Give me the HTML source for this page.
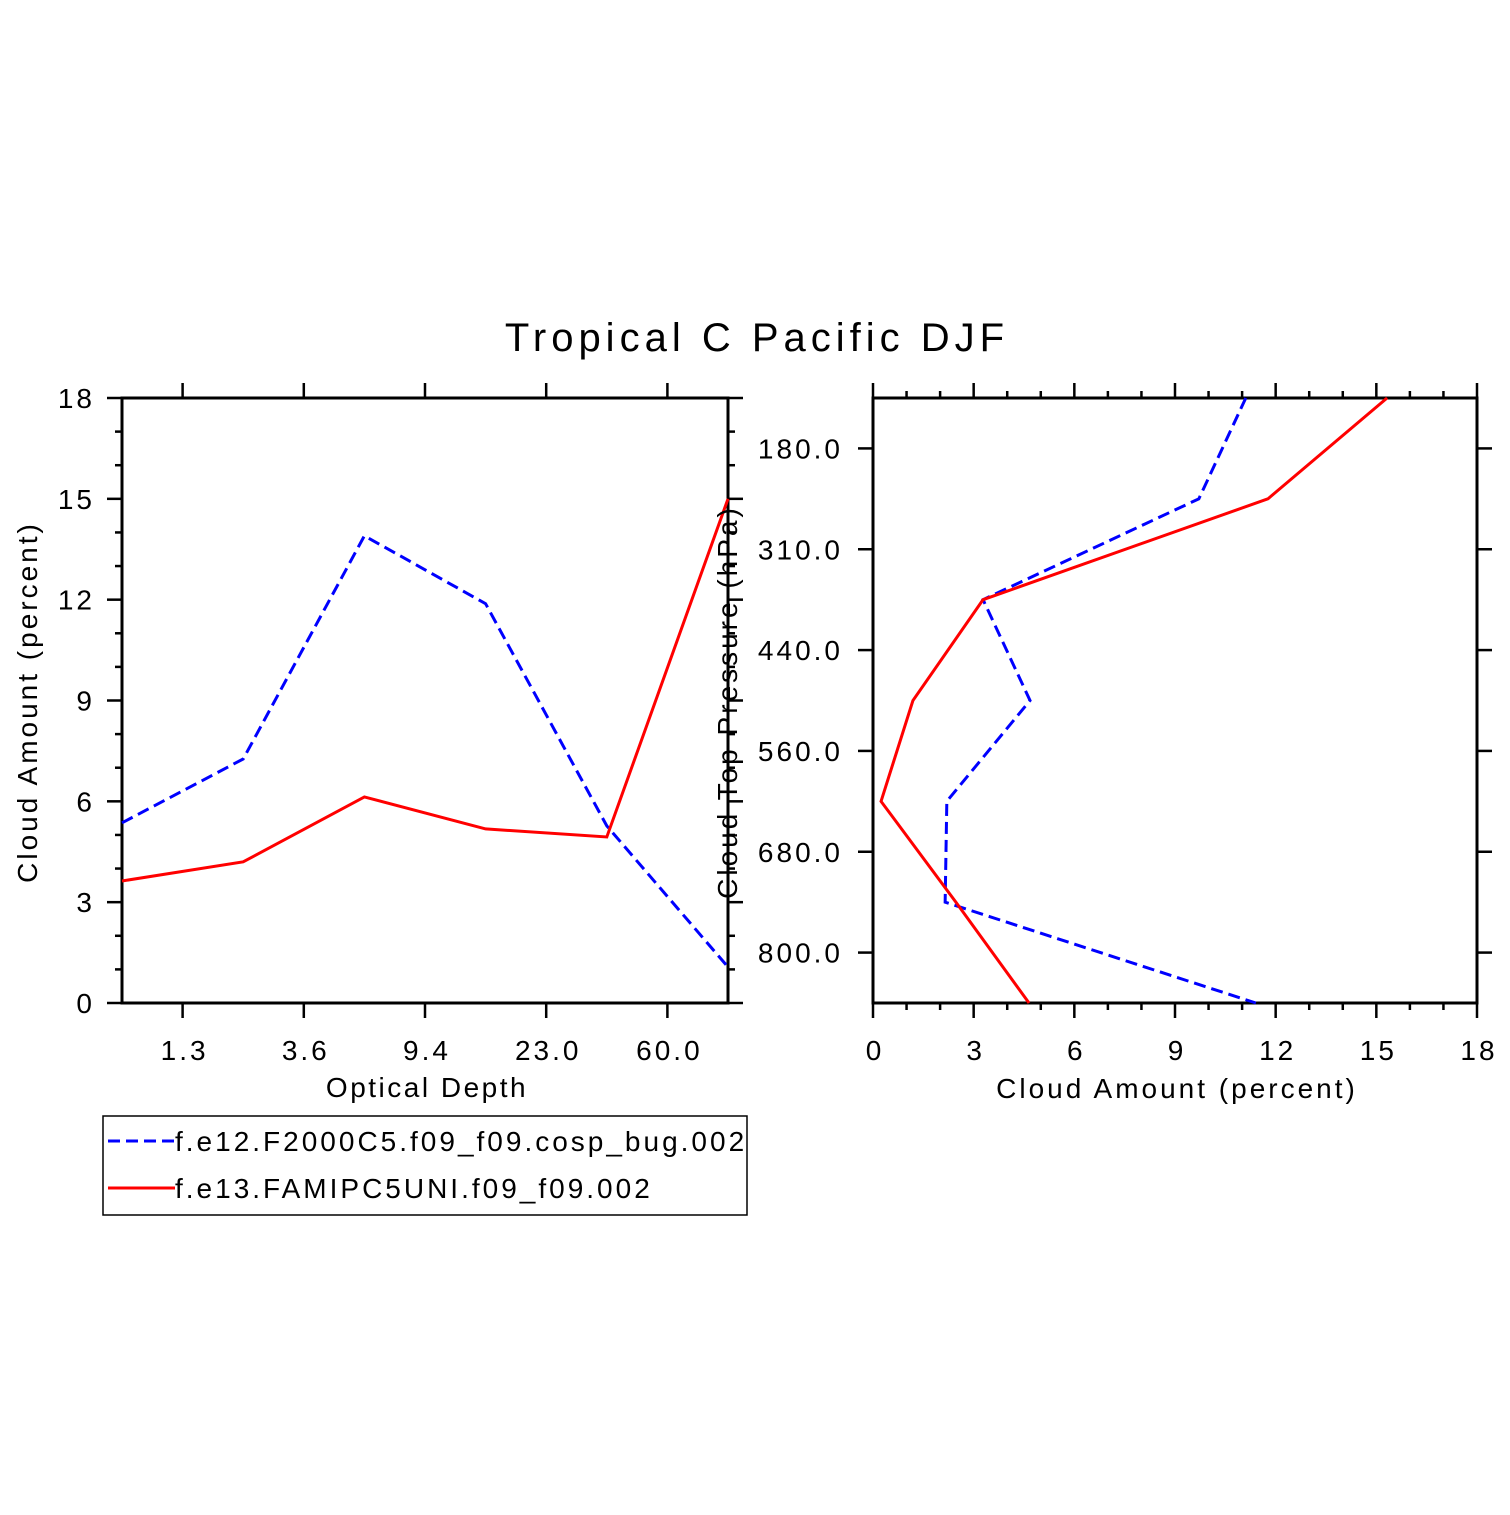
<!DOCTYPE html>
<html><head><meta charset="utf-8"><style>
html,body{margin:0;padding:0;background:#fff}
svg text{font-family:"Liberation Sans","DejaVu Sans",sans-serif;fill:#000}
</style></head><body>
<svg id="chart" width="1510" height="1510" viewBox="0 0 1510 1510" xmlns="http://www.w3.org/2000/svg">
<rect width="1510" height="1510" fill="#fff"/>
<text x="757" y="351" font-size="40" text-anchor="middle" letter-spacing="5">Tropical C Pacific DJF</text>
<g id="left"></g>
<g id="right"></g>
<g>
<rect x="103" y="1116" width="644" height="99" fill="none" stroke="#000" stroke-width="1.5"/>
<line x1="108" y1="1141" x2="175" y2="1141" stroke="#00f" stroke-width="3" stroke-dasharray="12,6"/>
<text x="175" y="1151" font-size="28" letter-spacing="3">f.e12.F2000C5.f09_f09.cosp_bug.002</text>
<line x1="108" y1="1188" x2="175" y2="1188" stroke="#f00" stroke-width="3"/>
<text x="175" y="1198" font-size="28" letter-spacing="3">f.e13.FAMIPC5UNI.f09_f09.002</text>
</g>
</svg>
<script>
const leftCategories = ["0.3","1.3","3.6","9.4","23.0","60.0"];
const leftTickLabels = ["1.3","3.6","9.4","23.0","60.0"];
const leftBlue = [5.36, 7.26, 13.9, 11.88, 5.27, 1.07];
const leftRed = [3.63, 4.2, 6.13, 5.18, 4.94, 15.0];
const amountTicks = [0,3,6,9,12,15,18];
const pressureLevels = [0,1,2,3,4,5,6];
const pressureTickLabels = ["180.0","310.0","440.0","560.0","680.0","800.0"];
const rightBlue = [11.11, 9.71, 3.28, 4.68, 2.2, 2.15, 11.41];
const rightRed = [15.32, 11.77, 3.28, 1.19, 0.24, 2.47, 4.65];

const NS="http://www.w3.org/2000/svg";
function mk(parent,tag,attrs){const e=document.createElementNS(NS,tag);for(const k in attrs)e.setAttribute(k,attrs[k]);parent.appendChild(e);return e;}
function ln(p,x1,y1,x2,y2,w){const l=mk(p,'line',{x1,y1,x2,y2,stroke:'#000','stroke-width':w});

return l;}
function tx(p,x,y,s,anchor,size,ls){const t=mk(p,'text',{x,y,'font-size':size||28,'text-anchor':anchor,'letter-spacing':(ls===undefined?3:ls)});t.textContent=s;

return t;}

// Left panel
const L=document.getElementById('left');
const lx0=122,lx1=728,ly0=398,ly1=1003;
const lxs=i=>lx0+i*(lx1-lx0)/(leftCategories.length-1);
const lys=v=>ly1-v*(ly1-ly0)/18;
for(let v=0;v<=18;v++){const y=lys(v);const maj=v%3===0;
 ln(L,lx0,y,lx0-(maj?15:7),y,2.5);ln(L,lx1,y,lx1+(maj?15:7),y,2.5);}
amountTicks.forEach(v=>tx(L,95,lys(v)+10,String(v),'end'));
leftTickLabels.forEach((s,i)=>{const x=lxs(i+0.5);ln(L,x,ly0,x,ly0-15,2.5);ln(L,x,ly1,x,ly1+15,2.5);tx(L,x+2,1060,s,'middle');});
const lbox=mk(L,'rect',{x:lx0,y:ly0,width:lx1-lx0,height:ly1-ly0,fill:'none',stroke:'#000','stroke-width':3});


const lxt=tx(L,427,1097,'Optical Depth','middle',28,2.5);

const lyt=tx(L,0,0,'Cloud Amount (percent)','middle',28,3);lyt.setAttribute('transform','translate(37,702) rotate(-90)');

function pl(p,pts,color,dash,name){const a=mk(p,'polyline',{points:pts.map(q=>q.join(',')).join(' '),fill:'none',stroke:color,'stroke-width':3});if(dash)a.setAttribute('stroke-dasharray','12,6');

}
pl(L,leftBlue.map((v,i)=>[lxs(i),lys(v)]),'#00f',true,'left-series-blue');
pl(L,leftRed.map((v,i)=>[lxs(i),lys(v)]),'#f00',false,'left-series-red');

// Right panel
const R=document.getElementById('right');
const rx0=873,rx1=1477,ry0=398,ry1=1003;
const rxs=v=>rx0+v*(rx1-rx0)/18;
const rys=i=>ry0+i*(ry1-ry0)/(pressureLevels.length-1);
for(let v=0;v<=18;v++){const x=rxs(v);const maj=v%3===0;
 ln(R,x,ry0,x,ry0-(maj?15:7),2.5);ln(R,x,ry1,x,ry1+(maj?15:7),2.5);}
amountTicks.forEach(v=>tx(R,rxs(v)+2,1060,String(v),'middle'));
pressureTickLabels.forEach((s,i)=>{const y=rys(i+0.5);ln(R,rx0,y,rx0-15,y,2.5);ln(R,rx1,y,rx1+15,y,2.5);tx(R,843,y+10,s,'end');});
const rbox=mk(R,'rect',{x:rx0,y:ry0,width:rx1-rx0,height:ry1-ry0,fill:'none',stroke:'#000','stroke-width':3});


const rxt=tx(R,1177,1098,'Cloud Amount (percent)','middle',28,3);

const ryt=tx(R,0,0,'Cloud Top Pressure (hPa)','middle',28,3);ryt.setAttribute('transform','translate(737,702) rotate(-90)');

pl(R,rightBlue.map((v,i)=>[rxs(v),rys(pressureLevels[i])]),'#00f',true,'right-series-blue');
pl(R,rightRed.map((v,i)=>[rxs(v),rys(pressureLevels[i])]),'#f00',false,'right-series-red');
</script>
</body></html>
